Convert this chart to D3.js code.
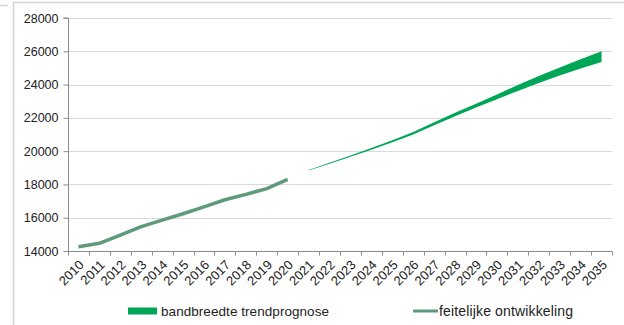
<!DOCTYPE html>
<html>
<head>
<meta charset="utf-8">
<script src="https://cdn.jsdelivr.net/npm/d3@7"></script>
<style>
  html, body { margin: 0; padding: 0; background: #fff; }
  svg { display: block; font-family: "Liberation Sans", Arial, sans-serif; }
</style>
</head>
<body>
<svg id="chart" width="624" height="325"></svg>
<script>
// ---- data ----
const years = ["2010","2011","2012","2013","2014","2015","2016","2017","2018","2019","2020","2021","2022","2023","2024","2025","2026","2027","2028","2029","2030","2031","2032","2033","2034","2035"];
const actualYears = ["2010","2011","2012","2013","2014","2015","2016","2017","2018","2019","2020"];
const actualValues = [14260, 14460, 14960, 15460, 15860, 16240, 16650, 17080, 17400, 17750, 18300];
const bandYears = ["2021","2022","2023","2024","2025","2026","2027","2028","2029","2030","2031","2032","2033","2034","2035"];
const bandLow  = [18840, 19250, 19660, 20090, 20540, 21000, 21550, 22100, 22620, 23120, 23620, 24100, 24550, 24960, 25350];
const bandHigh = [18860, 19300, 19740, 20190, 20660, 21150, 21740, 22300, 22850, 23400, 23980, 24520, 25030, 25520, 26000];
const yTicks = [14000, 16000, 18000, 20000, 22000, 24000, 26000, 28000];
const legendLabels = ["bandbreedte trendprognose", "feitelijke ontwikkeling"];

// ---- layout ----
const svg = d3.select("#chart");
const mLeft = 68, mRight = 612, mTop = 18, mBottom = 251;
const bandColor = "#00a658";
const lineColor = "#5e9a7b";

const x = d3.scaleBand().domain(years).range([mLeft, mRight]).padding(0);
const y = d3.scaleLinear().domain([14000, 28000]).range([mBottom, mTop]);
const cx = d => x(d) + x.bandwidth() / 2;

// frame
svg.append("rect").attr("x", 13.5).attr("y", 2.5).attr("width", 640).attr("height", 340)
  .attr("fill", "none").attr("stroke", "#d4d4d4").attr("stroke-width", 1.5);
svg.append("line").attr("x1", 0).attr("x2", 8).attr("y1", 5.5).attr("y2", 5.5)
  .attr("stroke", "#d4d4d4").attr("stroke-width", 1.5);

// gridlines
svg.append("g").selectAll("line").data(yTicks.filter(t => t > 14000)).join("line")
  .attr("x1", mLeft).attr("x2", mRight)
  .attr("y1", d => Math.round(y(d)) + 0.5).attr("y2", d => Math.round(y(d)) + 0.5)
  .attr("stroke", "#d9d9d9").attr("stroke-width", 1.2);

// y axis
const yAxis = svg.append("g").attr("transform", `translate(${mLeft + 0.5},0)`)
  .call(d3.axisLeft(y).tickValues(yTicks).tickFormat(d3.format("d")).tickSize(5).tickPadding(5));
yAxis.select(".domain").attr("stroke", "#8c8c8c").attr("d", `M-5,${y(28000)}H0V${mBottom}`);
yAxis.selectAll(".tick line").attr("stroke", "#8c8c8c");
yAxis.selectAll(".tick text").attr("fill", "#222").style("font-size", "12.5px")
  .style("font-family", "'Liberation Sans', Arial, sans-serif");

// x axis
const xAxisG = svg.append("g").attr("transform", `translate(0,${mBottom + 0.5})`);
xAxisG.append("line").attr("x1", mLeft).attr("x2", mRight).attr("y1", 0).attr("y2", 0)
  .attr("stroke", "#8c8c8c");
const boundaries = years.map(d => x(d)).concat([mRight]);
xAxisG.selectAll("line.tk").data(boundaries).join("line").attr("class", "tk")
  .attr("x1", d => Math.round(d) + 0.5).attr("x2", d => Math.round(d) + 0.5)
  .attr("y1", 0).attr("y2", 4).attr("stroke", "#8c8c8c");
xAxisG.selectAll("text").data(years).join("text")
  .attr("transform", d => `translate(${cx(d) + 3},${11}) rotate(-45)`)
  .attr("text-anchor", "end").attr("dy", "0.35em")
  .attr("fill", "#222").style("font-size", "13px").text(d => d);

// band
const bandData = bandYears.map((d, i) => ({ year: d, lo: bandLow[i], hi: bandHigh[i] }));
svg.append("path").datum(bandData)
  .attr("fill", bandColor)
  .attr("d", d3.area().x(d => cx(d.year)).y0(d => y(d.lo)).y1(d => y(d.hi)));

// actual line
const actualData = actualYears.map((d, i) => ({ year: d, v: actualValues[i] }));
svg.append("path").datum(actualData)
  .attr("fill", "none").attr("stroke", lineColor).attr("stroke-width", 3.5)
  .attr("stroke-linejoin", "round")
  .attr("d", d3.line().x(d => cx(d.year)).y(d => y(d.v)));

// legend
const lg = svg.append("g");
lg.append("rect").attr("x", 128).attr("y", 307.5).attr("width", 29).attr("height", 7).attr("fill", bandColor);
lg.append("text").attr("x", 161).attr("y", 311).attr("dy", "0.35em").attr("fill", "#222")
  .style("font-size", "13.5px").attr("textLength", 168).attr("lengthAdjust", "spacing")
  .text(legendLabels[0]);
lg.append("line").attr("x1", 413).attr("x2", 438).attr("y1", 311).attr("y2", 311)
  .attr("stroke", lineColor).attr("stroke-width", 3);
lg.append("text").attr("x", 439).attr("y", 311).attr("dy", "0.35em").attr("fill", "#222")
  .style("font-size", "14px").attr("textLength", 134).attr("lengthAdjust", "spacing")
  .text(legendLabels[1]);
</script>
</body>
</html>
